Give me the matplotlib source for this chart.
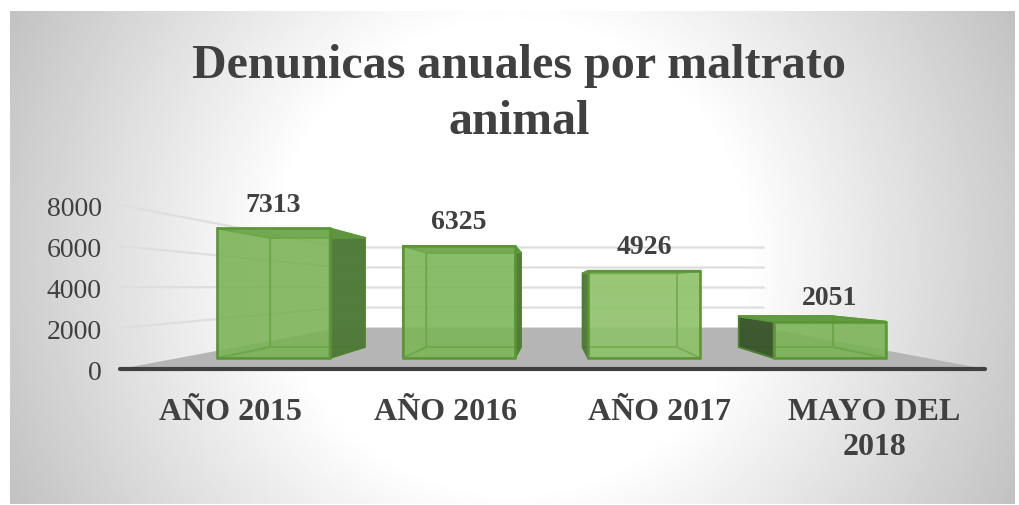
import numpy as np
import matplotlib
matplotlib.use('Agg')
import matplotlib.pyplot as plt
from matplotlib.colors import to_rgba
from matplotlib.patches import Polygon
from matplotlib.transforms import ScaledTranslation

categories = ['AÑO 2015', 'AÑO 2016', 'AÑO 2017', 'MAYO DEL\n2018']
values = [7313, 6325, 4926, 2051]
y_ticks = [0, 2000, 4000, 6000, 8000]

# depth planes of the fake 3d box (1 = front edge of the floor)
FRONT = 0.864
BACK = 0.728
WALL = 0.488
BAR_W = 0.605
CAT_SQUEEZE = 0.992
BAR_SHIFT = -0.005
VP_X, VP_Y = 2.0, 3950


def proj(x, v, s):
    return VP_X + s * (x - VP_X), VP_Y + s * (v - VP_Y)


def bar_proj(x, v, s):
    return proj(VP_X + BAR_SHIFT + CAT_SQUEEZE * (x - VP_X), v, s)


def face(pts, fc, alpha, ec, lw, z):
    ax.add_patch(Polygon(pts, fc=to_rgba(fc, alpha), ec=ec, lw=lw, zorder=z))


plt.rcParams['font.family'] = ['Liberation Serif', 'DejaVu Serif']
W, H = 1019, 506
fig = plt.figure(figsize=(W / 100, H / 100), dpi=100, facecolor='white')

# radial grey background, white in the middle
bg = fig.add_axes([10 / W, 1 - 505 / H, 1005 / W, 493 / H])
gx, gy = np.meshgrid(np.arange(-502, 503, 2), np.arange(-246, 247, 2))
r = np.sqrt(gx ** 2 + gy ** 2)
shade = np.clip((r - 235) / 325, 0, 1)
bg.imshow(1 - 0.24 * shade, cmap='gray', vmin=0, vmax=1, aspect='auto')
bg.axis('off')

ax = fig.add_axes([120 / W, 1 - 370 / H, 865 / W, 164 / H])
ax.patch.set_visible(False)
ax.set_xlim(0, 4)
ax.set_ylim(0, 8000)
for sp in ax.spines.values():
    sp.set_visible(False)

# floor
floor = [proj(0, 0, 1), proj(4, 0, 1), proj(4, 0, WALL), proj(0, 0, WALL)]
ax.add_patch(Polygon(floor, fc='#b5b5b5', ec='none', zorder=1))

# gridlines on side wall and back wall
for t in y_ticks[1:]:
    xa, ya = proj(0, t, 1)
    xb, yb = proj(0, t, WALL)
    xc, yc = proj(4, t, WALL)
    ax.plot([xa, xb, xc], [ya, yb, yc], color='#dedede', lw=1.6, zorder=2, clip_on=False)

ax.plot([0, 4], [0, 0], color='#404040', lw=3, zorder=3, clip_on=False, solid_capstyle='round')

front_cols = ['#7ab255', '#7cb557', '#8cc166', '#7ab255']
edge = '#5d9a3a'
for i, v in enumerate(values):
    x0 = i + 0.5 - BAR_W / 2
    x1 = i + 0.5 + BAR_W / 2
    c = bar_proj
    back = [c(x0, 0, BACK), c(x1, 0, BACK), c(x1, v, BACK), c(x0, v, BACK)]
    bottom = [c(x0, 0, FRONT), c(x1, 0, FRONT), c(x1, 0, BACK), c(x0, 0, BACK)]
    top = [c(x0, v, FRONT), c(x1, v, FRONT), c(x1, v, BACK), c(x0, v, BACK)]
    left = [c(x0, 0, FRONT), c(x0, v, FRONT), c(x0, v, BACK), c(x0, 0, BACK)]
    right = [c(x1, 0, FRONT), c(x1, v, FRONT), c(x1, v, BACK), c(x1, 0, BACK)]
    front = [c(x0, 0, FRONT), c(x1, 0, FRONT), c(x1, v, FRONT), c(x0, v, FRONT)]

    z = 4
    face(back, front_cols[i], 0.75, edge, 1.3, z)
    face(bottom, front_cols[i], 0.75, edge, 1.3, z + 0.1)
    # the side turned to the viewer is the dark one
    outer, inner = (right, left) if i < 2 else (left, right)
    face(inner, front_cols[i], 0.75, edge, 1.3, z + 0.2)
    face(outer, '#4c7536' if i != 3 else '#36502a', 0.9, '#4f8030', 1.3, z + 0.2)
    face(top, '#5f9640', 0.9, edge, 1.3, z + 0.3)
    face(front, front_cols[i], 0.55, '#5a9636', 1.8, z + 0.4)

    tx, ty = c(i + 0.5, v, FRONT)
    ax.annotate(str(v), (tx, ty), xytext=(0, 17.5), textcoords='offset points', ha='center',
                va='center', fontsize=20, fontweight='bold', color='#404040', zorder=8,
                annotation_clip=False)

ax.set_xticks([VP_X + CAT_SQUEEZE * (i + 0.5 - VP_X) for i in range(4)])
ax.set_xticklabels(categories, fontsize=23, fontweight='bold', color='#404040', linespacing=1.27)
ax.set_yticks(y_ticks)
ax.set_yticklabels([str(t) for t in y_ticks], fontsize=20, color='#404040')
ax.tick_params(axis='both', length=0)
ax.tick_params(axis='x', pad=20.5)
ax.tick_params(axis='y', pad=13)
for lab in ax.get_yticklabels():
    lab.set_transform(lab.get_transform() + ScaledTranslation(0, -0.4 / 72, fig.dpi_scale_trans))

fig.text(519 / W, 1 - 94 / H, 'Denunicas anuales por maltrato\nanimal', ha='center', va='center',
         fontsize=34.6, fontweight='bold', color='#404040', linespacing=1.34)

fig.savefig('out.png', dpi=100)
